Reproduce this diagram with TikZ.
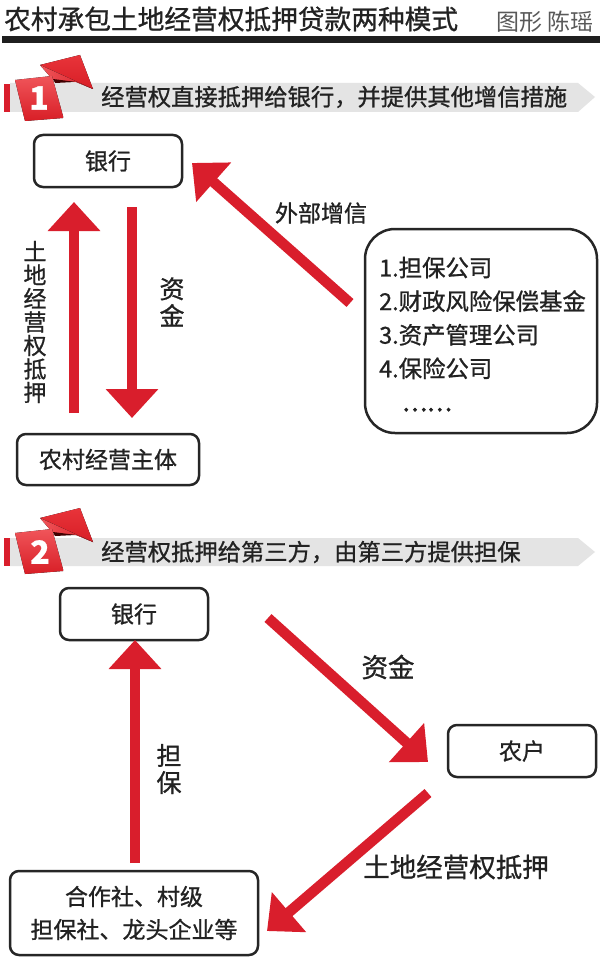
\documentclass[tikz,border=0pt]{standalone}
\usepackage{fontspec}
\setmainfont{Noto Sans CJK SC}[RawFeature={embolden=0.9}]
\newfontfamily\lightcjk{Noto Sans CJK SC}
\newfontfamily\dotfont{Noto Sans CJK SC}[RawFeature={embolden=3}]
\usetikzlibrary{arrows.meta}
\definecolor{ared}{HTML}{D91E2C}
\definecolor{boxk}{HTML}{262626}
\definecolor{txt}{HTML}{222222}
\definecolor{band}{HTML}{E4E4E4}
\definecolor{flaglight}{HTML}{F0555A}
\definecolor{flagmid}{HTML}{E8343A}
\definecolor{flagdeep}{HTML}{D81E26}
\tikzset{
 x=1pt,y=-1pt,
 flow/.style={draw=ared,line width=10.5pt,-{Triangle[length=29pt,width=51pt]}},
 bx/.style={draw=boxk,line width=2.5pt,rounded corners=9pt,align=center,text=txt,font=\fontsize{23}{33}\selectfont,inner sep=0pt},
 lab/.style={text=txt,font=\fontsize{23}{26}\selectfont,inner sep=0pt,align=center},
 big/.style={text=txt,font=\fontsize{26.5}{28}\selectfont,inner sep=0pt,align=center},
 sub/.style={text=txt,font=\fontsize{23.3}{26}\selectfont,inner sep=0pt,anchor=west},
 num/.style={text=white,font=\bfseries\fontsize{32}{32}\selectfont,inner sep=0pt},
 ribbon/.pic={
  \fill[top color=flagmid,bottom color=flagdeep] (40,65) -- (80,55) -- (93,89) -- cycle;
  \fill[left color=flaglight,right color=flagdeep] (40,65) -- (93,89) -- (76,82) -- (53,80) -- cycle;
  \fill[black!75!red] (53,79) -- (76,82) -- (55,83) -- cycle;
  \fill[top color=flaglight,bottom color=flagdeep] (15,80) -- (52,76) -- (63,116) -- (63,118) -- (25,121) -- cycle;
 }
}
\begin{document}
\begin{tikzpicture}
\useasboundingbox (0,0) rectangle (600,960);
\fill[white] (0,0) rectangle (600,960);
% title
\node[text=txt,font=\fontsize{26.7}{30}\selectfont,anchor=west,inner sep=0pt] (title) at (4,19) {农村承包土地经营权抵押贷款两种模式};
\node[text=black!65,font=\lightcjk\fontsize{23}{24}\selectfont,anchor=east,inner sep=0pt] (credit) at (594,22) {图形 陈瑶};
\fill[black!88] (2,36) rectangle (600,43);
% header 1
\fill[band] (10,83) -- (578,83) -- (595,97) -- (578,112) -- (10,112) -- cycle;
\fill[ared] (4,84) rectangle (10,112);
\pic at (0,0) {ribbon};
\node[num] (n1) at (39,98) {1};
\node[sub] (h1) at (101,97) {经营权直接抵押给银行，并提供其他增信措施};
% header 2
\fill[band] (10,538) -- (578,538) -- (595,552) -- (578,566) -- (10,566) -- cycle;
\fill[ared] (4,538) rectangle (10,566);
\pic at (0,453) {ribbon};
\node[num] (n2) at (40,552) {2};
\node[sub] (h2) at (101,552) {经营权抵押给第三方，由第三方提供担保};
% section 1
\node[bx,minimum width=148pt,minimum height=52pt] (bank1) at (108,161) {银行};
\node[bx,minimum width=182pt,minimum height=51pt] (farm) at (108,459.5) {农村经营主体};
\node[bx,rounded corners=30pt,minimum width=232pt,minimum height=204pt] (list) at (481,331) {};
\node[lab,anchor=west,align=left,font=\fontsize{23.4}{33.6}\selectfont] (items) at (379,318) {1.担保公司\\2.财政风险保偿基金\\3.资产管理公司\\4.保险公司};
\node[lab,font=\dotfont\fontsize{23.4}{26}\selectfont] (dots) at (427,411) {\smash{……}};
\coordinate (a1s) at (74,413); \coordinate (a1e) at (74,202);
\draw[flow] (a1s) -- (a1e);
\coordinate (a2s) at (132,207); \coordinate (a2e) at (132,418);
\draw[flow] (a2s) -- (a2e);
\coordinate (a3s) at (350,303); \coordinate (a3e) at (192,163);
\draw[flow] (a3s) -- (a3e);
\node[lab] (ext) at (321,213) {外部增信};
\node[lab,font=\fontsize{23}{23.5}\selectfont] (lbl1) at (35,322) {土\\地\\经\\营\\权\\抵\\押};
\node[lab,font=\fontsize{25}{27}\selectfont] (lbl2) at (172,302) {资\\金};
% section 2
\node[bx,minimum width=148pt,minimum height=52pt] (bank2) at (134,614) {银行};
\node[bx,minimum width=148pt,minimum height=52pt] (farmer) at (522,751) {农户};
\node[bx,minimum width=248pt,minimum height=84pt] (coop) at (134,913) {合作社、村级\\担保社、龙头企业等};
\coordinate (b1s) at (135,863); \coordinate (b1e) at (135,640);
\draw[flow] (b1s) -- (b1e);
\coordinate (b2s) at (268,618); \coordinate (b2e) at (428,762);
\draw[flow] (b2s) -- (b2e);
\coordinate (b3s) at (428,793); \coordinate (b3e) at (267,931);
\draw[flow] (b3s) -- (b3e);
\node[big] (lzj) at (388,667) {资金};
\node[lab,font=\fontsize{25}{27}\selectfont] (ldb) at (169,769) {担\\保};
\node[big] (ltd) at (456,867) {土地经营权抵押};
\end{tikzpicture}
\end{document}
